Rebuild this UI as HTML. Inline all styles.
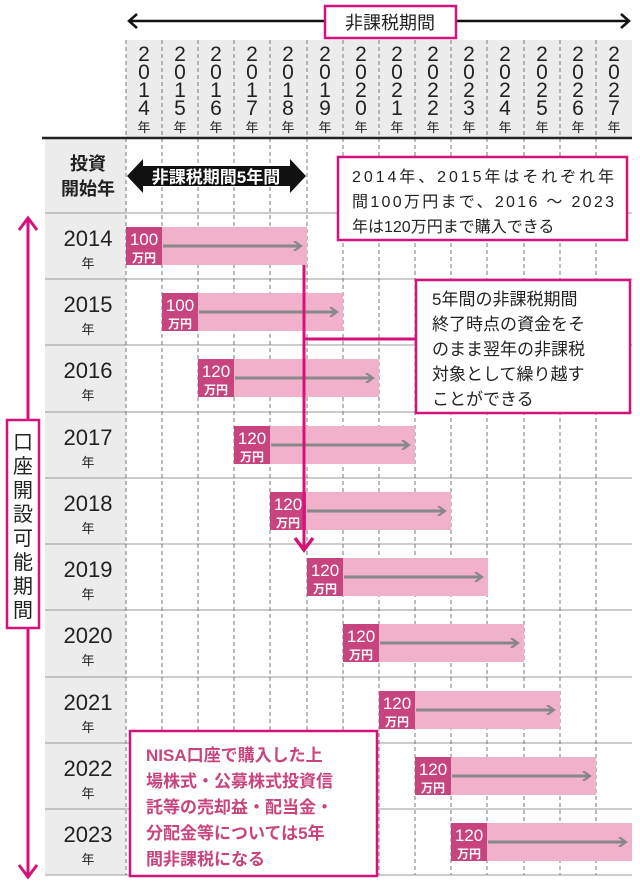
<!DOCTYPE html>
<html><head><meta charset="utf-8"><style>
body{margin:0;background:#fff;}
svg{display:block;font-family:"Liberation Sans","Noto Sans CJK JP",sans-serif;}
</style></head><body>
<svg width="640" height="887" viewBox="0 0 640 887" xmlns="http://www.w3.org/2000/svg">
<defs>
<marker id="ga" markerWidth="10" markerHeight="10" refX="8" refY="5" orient="auto" markerUnits="userSpaceOnUse"><path d="M1,0 L8,5 L1,10" fill="none" stroke="#888" stroke-width="2.2"/></marker>
</defs>
<rect x="126" y="40" width="506" height="97" fill="#ececec"/>
<rect x="45" y="139" width="81" height="736" fill="#ececec"/>
<g stroke="#999" stroke-width="1">
<line x1="45" y1="213" x2="632" y2="213"/><line x1="45" y1="279" x2="632" y2="279"/><line x1="45" y1="345" x2="632" y2="345"/><line x1="45" y1="412" x2="632" y2="412"/><line x1="45" y1="478" x2="632" y2="478"/><line x1="45" y1="544" x2="632" y2="544"/><line x1="45" y1="610" x2="632" y2="610"/><line x1="45" y1="677" x2="632" y2="677"/><line x1="45" y1="743" x2="632" y2="743"/><line x1="45" y1="809" x2="632" y2="809"/><line x1="45" y1="875" x2="632" y2="875"/>
</g>
<g stroke="#777" stroke-width="1" stroke-dasharray="4,3">
<line x1="126" y1="40" x2="126" y2="875"/><line x1="162" y1="40" x2="162" y2="875"/><line x1="198" y1="40" x2="198" y2="875"/><line x1="234" y1="40" x2="234" y2="875"/><line x1="270" y1="40" x2="270" y2="875"/><line x1="307" y1="40" x2="307" y2="875"/><line x1="343" y1="40" x2="343" y2="875"/><line x1="379" y1="40" x2="379" y2="875"/><line x1="415" y1="40" x2="415" y2="875"/><line x1="451" y1="40" x2="451" y2="875"/><line x1="487" y1="40" x2="487" y2="875"/><line x1="524" y1="40" x2="524" y2="875"/><line x1="560" y1="40" x2="560" y2="875"/><line x1="596" y1="40" x2="596" y2="875"/>
</g>
<line x1="42" y1="138" x2="632" y2="138" stroke="#222" stroke-width="2.5"/>
<g font-size="21" fill="#222" text-anchor="middle">
<text x="144" y="61">2</text><text x="144" y="79">0</text><text x="144" y="97">1</text><text x="144" y="115">4</text>
<text x="180" y="61">2</text><text x="180" y="79">0</text><text x="180" y="97">1</text><text x="180" y="115">5</text>
<text x="216" y="61">2</text><text x="216" y="79">0</text><text x="216" y="97">1</text><text x="216" y="115">6</text>
<text x="252" y="61">2</text><text x="252" y="79">0</text><text x="252" y="97">1</text><text x="252" y="115">7</text>
<text x="288" y="61">2</text><text x="288" y="79">0</text><text x="288" y="97">1</text><text x="288" y="115">8</text>
<text x="325" y="61">2</text><text x="325" y="79">0</text><text x="325" y="97">1</text><text x="325" y="115">9</text>
<text x="361" y="61">2</text><text x="361" y="79">0</text><text x="361" y="97">2</text><text x="361" y="115">0</text>
<text x="397" y="61">2</text><text x="397" y="79">0</text><text x="397" y="97">2</text><text x="397" y="115">1</text>
<text x="433" y="61">2</text><text x="433" y="79">0</text><text x="433" y="97">2</text><text x="433" y="115">2</text>
<text x="469" y="61">2</text><text x="469" y="79">0</text><text x="469" y="97">2</text><text x="469" y="115">3</text>
<text x="505" y="61">2</text><text x="505" y="79">0</text><text x="505" y="97">2</text><text x="505" y="115">4</text>
<text x="542" y="61">2</text><text x="542" y="79">0</text><text x="542" y="97">2</text><text x="542" y="115">5</text>
<text x="578" y="61">2</text><text x="578" y="79">0</text><text x="578" y="97">2</text><text x="578" y="115">6</text>
<text x="614" y="61">2</text><text x="614" y="79">0</text><text x="614" y="97">2</text><text x="614" y="115">7</text>
</g>
<g font-size="13" fill="#222" text-anchor="middle">
<text x="144" y="132">年</text><text x="180" y="132">年</text><text x="216" y="132">年</text><text x="252" y="132">年</text><text x="288" y="132">年</text><text x="325" y="132">年</text><text x="361" y="132">年</text><text x="397" y="132">年</text><text x="433" y="132">年</text><text x="469" y="132">年</text><text x="505" y="132">年</text><text x="542" y="132">年</text><text x="578" y="132">年</text><text x="614" y="132">年</text>
</g>
<line x1="130" y1="21" x2="628" y2="21" stroke="#111" stroke-width="2.5"/>
<path d="M137,14 L129,21 L137,28" fill="none" stroke="#111" stroke-width="2.5"/>
<path d="M621,14 L629,21 L621,28" fill="none" stroke="#111" stroke-width="2.5"/>
<rect x="325" y="6" width="131" height="32" fill="#fff" stroke="#d6127a" stroke-width="2.5"/>
<text x="390" y="29" font-size="18" fill="#222" text-anchor="middle">非課税期間</text>
<text x="88" y="170" font-size="18" font-weight="bold" fill="#222" text-anchor="middle">投資</text>
<text x="88" y="195" font-size="18" font-weight="bold" fill="#222" text-anchor="middle">開始年</text>
<path d="M127,176 L143,159 L143,166 L290,166 L290,159 L306,176 L290,193 L290,186 L143,186 L143,193 Z" fill="#111"/>
<text x="216" y="183" font-size="17" font-weight="bold" fill="#fff" text-anchor="middle">非課税期間5年間</text>
<g fill="#222" text-anchor="middle">
<text x="88" y="246" font-size="22">2014</text><text x="88" y="268" font-size="13">年</text>
<text x="88" y="312" font-size="22">2015</text><text x="88" y="334" font-size="13">年</text>
<text x="88" y="378" font-size="22">2016</text><text x="88" y="400" font-size="13">年</text>
<text x="88" y="445" font-size="22">2017</text><text x="88" y="467" font-size="13">年</text>
<text x="88" y="511" font-size="22">2018</text><text x="88" y="533" font-size="13">年</text>
<text x="88" y="577" font-size="22">2019</text><text x="88" y="599" font-size="13">年</text>
<text x="88" y="643" font-size="22">2020</text><text x="88" y="665" font-size="13">年</text>
<text x="88" y="710" font-size="22">2021</text><text x="88" y="732" font-size="13">年</text>
<text x="88" y="776" font-size="22">2022</text><text x="88" y="798" font-size="13">年</text>
<text x="88" y="842" font-size="22">2023</text><text x="88" y="864" font-size="13">年</text>
</g>
<g>
<rect x="126" y="227" width="181" height="38" fill="#f2b1cb"/><rect x="126" y="227" width="36" height="38" fill="#c8447f"/><line x1="163" y1="246" x2="301" y2="246" stroke="#888" stroke-width="3" marker-end="url(#ga)"/>
<text x="144" y="245" font-size="17" fill="#fff" text-anchor="middle">100</text><text x="144" y="262" font-size="12" font-weight="bold" fill="#fff" text-anchor="middle">万円</text>
<rect x="162" y="293" width="181" height="38" fill="#f2b1cb"/><rect x="162" y="293" width="36" height="38" fill="#c8447f"/><line x1="199" y1="312" x2="337" y2="312" stroke="#888" stroke-width="3" marker-end="url(#ga)"/>
<text x="180" y="311" font-size="17" fill="#fff" text-anchor="middle">100</text><text x="180" y="328" font-size="12" font-weight="bold" fill="#fff" text-anchor="middle">万円</text>
<rect x="198" y="359" width="181" height="38" fill="#f2b1cb"/><rect x="198" y="359" width="36" height="38" fill="#c8447f"/><line x1="235" y1="378" x2="373" y2="378" stroke="#888" stroke-width="3" marker-end="url(#ga)"/>
<text x="216" y="377" font-size="17" fill="#fff" text-anchor="middle">120</text><text x="216" y="394" font-size="12" font-weight="bold" fill="#fff" text-anchor="middle">万円</text>
<rect x="234" y="426" width="181" height="38" fill="#f2b1cb"/><rect x="234" y="426" width="36" height="38" fill="#c8447f"/><line x1="271" y1="445" x2="409" y2="445" stroke="#888" stroke-width="3" marker-end="url(#ga)"/>
<text x="252" y="444" font-size="17" fill="#fff" text-anchor="middle">120</text><text x="252" y="461" font-size="12" font-weight="bold" fill="#fff" text-anchor="middle">万円</text>
<rect x="270" y="492" width="181" height="38" fill="#f2b1cb"/><rect x="270" y="492" width="36" height="38" fill="#c8447f"/><line x1="307" y1="511" x2="445" y2="511" stroke="#888" stroke-width="3" marker-end="url(#ga)"/>
<text x="288" y="510" font-size="17" fill="#fff" text-anchor="middle">120</text><text x="288" y="527" font-size="12" font-weight="bold" fill="#fff" text-anchor="middle">万円</text>
<rect x="307" y="558" width="181" height="38" fill="#f2b1cb"/><rect x="307" y="558" width="36" height="38" fill="#c8447f"/><line x1="344" y1="577" x2="482" y2="577" stroke="#888" stroke-width="3" marker-end="url(#ga)"/>
<text x="325" y="576" font-size="17" fill="#fff" text-anchor="middle">120</text><text x="325" y="593" font-size="12" font-weight="bold" fill="#fff" text-anchor="middle">万円</text>
<rect x="343" y="624" width="181" height="38" fill="#f2b1cb"/><rect x="343" y="624" width="36" height="38" fill="#c8447f"/><line x1="380" y1="643" x2="518" y2="643" stroke="#888" stroke-width="3" marker-end="url(#ga)"/>
<text x="361" y="642" font-size="17" fill="#fff" text-anchor="middle">120</text><text x="361" y="659" font-size="12" font-weight="bold" fill="#fff" text-anchor="middle">万円</text>
<rect x="379" y="691" width="181" height="38" fill="#f2b1cb"/><rect x="379" y="691" width="36" height="38" fill="#c8447f"/><line x1="416" y1="710" x2="554" y2="710" stroke="#888" stroke-width="3" marker-end="url(#ga)"/>
<text x="397" y="709" font-size="17" fill="#fff" text-anchor="middle">120</text><text x="397" y="726" font-size="12" font-weight="bold" fill="#fff" text-anchor="middle">万円</text>
<rect x="415" y="757" width="181" height="38" fill="#f2b1cb"/><rect x="415" y="757" width="36" height="38" fill="#c8447f"/><line x1="452" y1="776" x2="590" y2="776" stroke="#888" stroke-width="3" marker-end="url(#ga)"/>
<text x="433" y="775" font-size="17" fill="#fff" text-anchor="middle">120</text><text x="433" y="792" font-size="12" font-weight="bold" fill="#fff" text-anchor="middle">万円</text>
<rect x="451" y="823" width="181" height="38" fill="#f2b1cb"/><rect x="451" y="823" width="36" height="38" fill="#c8447f"/><line x1="488" y1="842" x2="626" y2="842" stroke="#888" stroke-width="3" marker-end="url(#ga)"/>
<text x="469" y="841" font-size="17" fill="#fff" text-anchor="middle">120</text><text x="469" y="858" font-size="12" font-weight="bold" fill="#fff" text-anchor="middle">万円</text>
</g>
<line x1="304" y1="265" x2="304" y2="548" stroke="#d6127a" stroke-width="3"/>
<path d="M295,538 L304,550 L313,538" fill="none" stroke="#d6127a" stroke-width="3.5"/>
<line x1="304" y1="339" x2="416" y2="339" stroke="#d6127a" stroke-width="3"/>
<rect x="338" y="157" width="289" height="83" fill="#fff" stroke="#d6127a" stroke-width="2.5"/>
<g font-size="16" fill="#222"><text x="352" y="182" textLength="262">2014年、2015年はそれぞれ年</text><text x="352" y="207" textLength="262">間100万円まで、2016 ～ 2023</text><text x="352" y="232">年は120万円まで購入できる</text></g>
<rect x="416" y="280" width="214" height="133" fill="#fff" stroke="#d6127a" stroke-width="2.5"/>
<g font-size="17" fill="#222"><text x="432" y="305">5年間の非課税期間</text><text x="432" y="330">終了時点の資金をそ</text><text x="432" y="355">のまま翌年の非課税</text><text x="432" y="380">対象として繰り越す</text><text x="432" y="405">ことができる</text></g>
<rect x="130" y="731" width="247" height="145" fill="#fff" stroke="#d6127a" stroke-width="2.5"/>
<g font-size="17" font-weight="bold" fill="#c8447f"><text x="146" y="761">NISA口座で購入した上</text><text x="146" y="787">場株式・公募株式投資信</text><text x="146" y="813">託等の売却益・配当金・</text><text x="146" y="839">分配金等については5年</text><text x="146" y="865">間非課税になる</text></g>
<line x1="28" y1="220" x2="28" y2="877" stroke="#d6127a" stroke-width="3"/>
<path d="M19,230 L28,218 L37,230" fill="none" stroke="#d6127a" stroke-width="3"/>
<path d="M19,865 L28,877 L37,865" fill="none" stroke="#d6127a" stroke-width="3"/>
<rect x="7" y="420" width="32" height="208" fill="#fff" stroke="#d6127a" stroke-width="2.5"/>
<g font-size="20" fill="#222" text-anchor="middle"><text x="23" y="449">口</text><text x="23" y="473">座</text><text x="23" y="497">開</text><text x="23" y="521">設</text><text x="23" y="545">可</text><text x="23" y="569">能</text><text x="23" y="593">期</text><text x="23" y="617">間</text></g>
</svg>
</body></html>
